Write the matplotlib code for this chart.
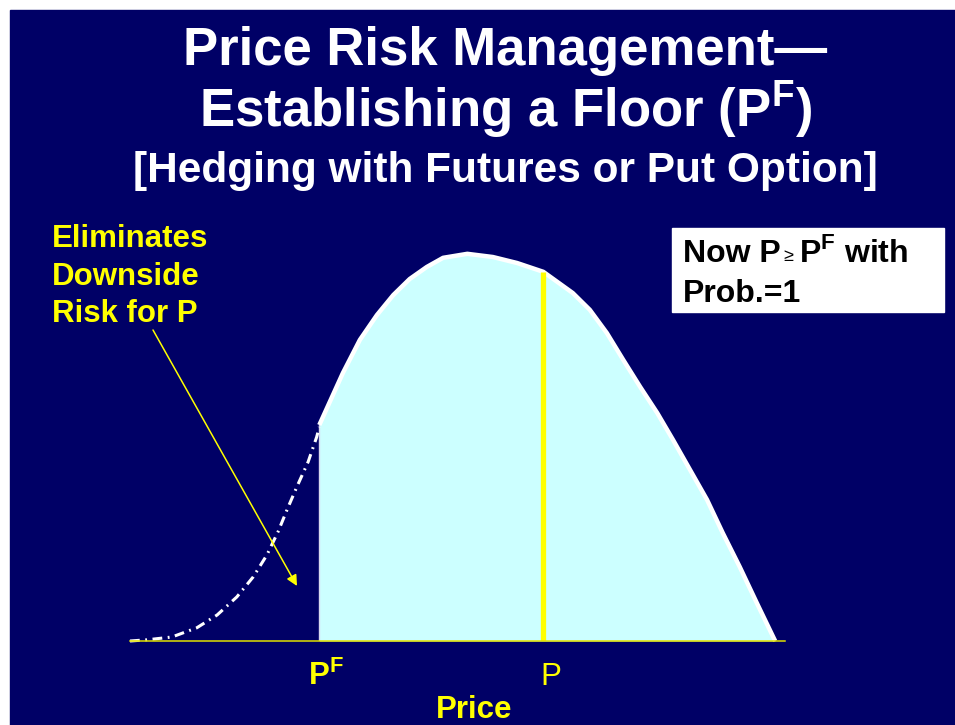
import matplotlib
matplotlib.use("Agg")
import matplotlib.pyplot as plt
from matplotlib.patches import Rectangle

plt.rcParams['font.family'] = ['Liberation Sans', 'DejaVu Sans']
plt.rcParams['mathtext.fontset'] = 'custom'
plt.rcParams['mathtext.rm'] = 'Liberation Sans'
plt.rcParams['mathtext.bf'] = 'Liberation Sans:bold'

NAVY = '#000066'
YEL = '#ffff00'
CYAN = '#ccffff'

# price distribution (price units 0..100, density 0..1)
tail_x = [0.0, 2.6, 6.4, 10.2, 13.3, 16.3, 18.8, 20.9, 22.6, 24.1, 25.6, 27.2, 28.5, 28.9]
tail_y = [0.0, 0.003, 0.01, 0.033, 0.065, 0.11, 0.16, 0.215, 0.273, 0.333, 0.39, 0.448, 0.51, 0.535]

body_x = [28.9, 32.5, 35.1, 37.7, 40.2, 42.7, 45.3, 47.8, 51.5, 55.4, 59.1, 63.1,
          67.6, 70.2, 72.8, 75.3, 77.9, 80.5, 82.9, 85.5, 88.1, 90.5, 93.1, 95.7, 98.5]
body_y = [0.54, 0.67, 0.753, 0.815, 0.865, 0.905, 0.935, 0.958, 0.968, 0.96, 0.945, 0.923,
          0.87, 0.828, 0.77, 0.703, 0.635, 0.57, 0.503, 0.428, 0.353, 0.27, 0.185, 0.095, 0.0]

p_floor = 28.9
p_now = 63.1
p_now_density = 0.923
axis_end = 100.0

W, H = 955, 725
fig = plt.figure(figsize=(W / 100, H / 100), dpi=100, facecolor='white')
fig.patches.append(Rectangle((10 / W, 0), (W - 10) / W, (H - 10) / H,
                             transform=fig.transFigure, color=NAVY, zorder=-5))

# curve axes: baseline at y=641px, x from 130px to 785px
ax = fig.add_axes([130 / W, (H - 641) / H, 655 / W, 400 / H], zorder=2)
ax.set_xlim(0, axis_end)
ax.set_ylim(0, 1)
ax.axis('off')
ax.patch.set_alpha(0)

ax.fill_between(body_x, body_y, 0, color=CYAN, lw=0, zorder=1)
ax.plot([p_floor, p_floor], [0, body_y[0]], color='#d8d8f0', lw=1, zorder=2)
ax.plot(body_x, body_y, color='white', lw=3.2, solid_capstyle='butt',
        solid_joinstyle='round', zorder=3, clip_on=False)
ax.plot(tail_x, tail_y, color='white', lw=2.2, linestyle=(0, (3.2, 1.8, 0.6, 1.8)),
        dash_capstyle='butt', zorder=3, clip_on=False)
ax.plot([p_now, p_now], [0, p_now_density], color=YEL, lw=3.8, solid_capstyle='butt', zorder=4)
ax.plot([0, axis_end], [0, 0], color='#e0e000', lw=1.1, zorder=5, clip_on=False)

# overlay axes in pixel units for text
ov = fig.add_axes([0, 0, 1, 1], zorder=5)
ov.set_xlim(0, W)
ov.set_ylim(H, 0)
ov.axis('off')
ov.patch.set_alpha(0)

ov.text(505, 65, 'Price Risk Management\u2014', color='white', fontsize=38,
        fontweight='bold', ha='center', va='baseline')
ov.text(505, 127, r'Establishing a Floor (P$^{\mathbf{F}}$)', color='white', fontsize=38,
        fontweight='bold', ha='center', va='baseline')
ov.text(505, 182, '[Hedging with Futures or Put Option]', color='white', fontsize=30.5,
        fontweight='bold', ha='center', va='baseline')

for i, line in enumerate(['Eliminates', 'Downside', 'Risk for P']):
    ov.text(52, 247 + i * 37.5, line, color=YEL, fontsize=22.5, fontweight='bold',
            va='baseline', ha='left')

ov.annotate('', xy=(297, 586), xytext=(153, 330),
            arrowprops=dict(arrowstyle='-|>', color=YEL, lw=1.1, mutation_scale=16,
                            shrinkA=0, shrinkB=0))

ov.add_patch(Rectangle((672, 228), 272, 84, color='white', zorder=1))
ov.text(683, 262, 'Now P', color='black', fontsize=23, fontweight='bold', va='baseline')
ov.text(783, 261, '\u2265', color='black', fontsize=13, va='baseline')
ov.text(799, 262, r'P$^{\mathbf{F}}$ with', color='black', fontsize=23, fontweight='bold',
        va='baseline')
ov.text(683, 302, 'Prob.=1', color='black', fontsize=23, fontweight='bold', va='baseline')

ov.text(308, 685, r'P$^{\mathbf{F}}$', color=YEL, fontsize=22.5, fontweight='bold',
        va='baseline', ha='left')
ov.text(540, 685, 'P', color=YEL, fontsize=22.5, va='baseline', ha='left')
ov.text(474, 718, 'Price', color=YEL, fontsize=22.5, fontweight='bold', va='baseline',
        ha='center')

fig.savefig('out.png', dpi=100, facecolor='white')
